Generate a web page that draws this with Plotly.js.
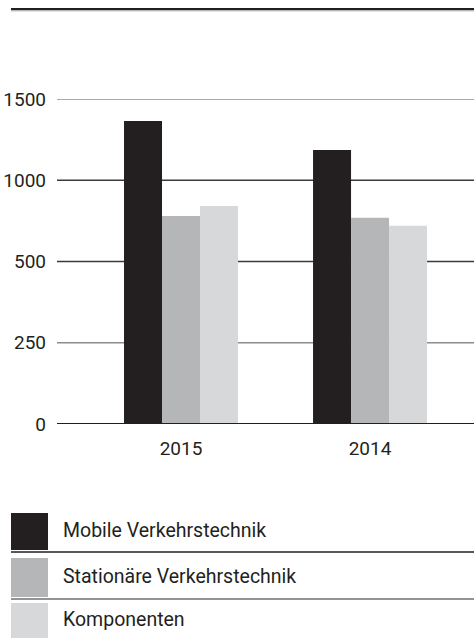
<!DOCTYPE html>
<html>
<head>
<meta charset="utf-8">
<script src="https://cdn.plot.ly/plotly-3.0.1.min.js"></script>
<style>
html,body{margin:0;padding:0;background:#fff;}
#chart{width:474px;height:638px;}
</style>
</head>
<body>
<div id="chart"></div>
<script>
// ---- data ----
const years = ["2015", "2014"];
const seriesNames = ["Mobile Verkehrstechnik", "Stationäre Verkehrstechnik", "Komponenten"];
const mobile = [1365, 1186];
const stationaer = [780, 770];
const komponenten = [842, 720];
const tickValues = [0, 250, 500, 1000, 1500];
const tickLabels = ["0", "250", "500", "1000", "1500"];

// ---- styles ----
const colors = ["#231f20", "#b5b6b8", "#d7d8da"];
const gridColors = ["#231f20", "#8c8c8c", "#3a3a3a", "#3a3a3a", "#8c8c8c"];
const W = 474, H = 638;
const M = {l: 57, r: 0, t: 99, b: 214};
const PW = W - M.l - M.r, PH = H - M.t - M.b;
const FONT = "Roboto, 'Liberation Sans', sans-serif";
const TXT = "#231f20";

// The reference uses a broken value axis: 0-250-500 then 500-1000-1500 equally spaced.
function scale(v) { return v <= 500 ? v / 250 : 2 + (v - 500) / 500; }
const px = x => (x - M.l) / PW;        // pixel -> paper x
const py = y => (M.t + PH - y) / PH;   // pixel -> paper y

const allSeries = [mobile, stationaer, komponenten];
const traces = allSeries.map((vals, i) => ({
  type: "bar",
  name: seriesNames[i],
  x: years,
  y: vals.map(scale),
  customdata: vals,
  hovertemplate: "%{x}: %{customdata}<extra>" + seriesNames[i] + "</extra>",
  marker: {color: colors[i], line: {width: 0}}
}));

const shapes = [];
// gridlines
tickValues.forEach((v, i) => {
  if (v === 0) return;
  shapes.push({type: "line", layer: "below", xref: "paper", yref: "y",
    x0: 0, x1: 1, y0: scale(v), y1: scale(v),
    line: {color: gridColors[i], width: 1.5}});
});
// zero baseline (dark with light shadow underneath)
shapes.push({type: "line", layer: "above", xref: "paper", yref: "y",
  x0: 0, x1: 1, y0: 0, y1: 0, line: {color: "#231f20", width: 2}});
shapes.push({type: "line", layer: "above", xref: "paper", yref: "y", ysizemode: "pixel", yanchor: 0,
  x0: 0, x1: 1, y0: -2, y1: -2, line: {color: "#9a9a9a", width: 1}});
// top rule
shapes.push({type: "line", xref: "paper", yref: "paper",
  x0: px(11), x1: 1, y0: py(9), y1: py(9), line: {color: "#231f20", width: 2}});
shapes.push({type: "line", xref: "paper", yref: "paper",
  x0: px(11), x1: 1, y0: py(10.8), y1: py(10.8), line: {color: "#9a9a9a", width: 1}});

// custom legend
const rows = [{top: 513, bot: 550, line: 552, lc: "#231f20"},
              {top: 558, bot: 597, line: 599, lc: "#6f6f6f"},
              {top: 603, bot: 640, line: null}];
const annotations = [];
rows.forEach((r, i) => {
  shapes.push({type: "rect", xref: "paper", yref: "paper",
    x0: px(11), x1: px(48), y0: py(r.bot), y1: py(r.top),
    fillcolor: colors[i], line: {width: 0}});
  if (r.line) shapes.push({type: "line", xref: "paper", yref: "paper",
    x0: px(11), x1: 1, y0: py(r.line), y1: py(r.line),
    line: {color: r.lc, width: 1.5}});
  annotations.push({xref: "paper", yref: "paper", x: px(61), y: py((r.top + Math.min(r.bot, 638)) / 2 - 1),
    xanchor: "left", yanchor: "middle", showarrow: false, text: seriesNames[i],
    font: {family: FONT, size: 19.5, color: TXT}});
});

const layout = {
  width: W, height: H,
  margin: M,
  paper_bgcolor: "#fff", plot_bgcolor: "rgba(0,0,0,0)",
  showlegend: false,
  barmode: "group",
  bargap: 0.397, bargroupgap: 0,
  font: {family: FONT, size: 19, color: TXT},
  xaxis: {type: "category", range: [-0.656, 1.55], showgrid: false, zeroline: false,
    showline: false, ticks: "", ticklabelstandoff: 11, fixedrange: true,
    tickfont: {family: FONT, size: 19, color: TXT}},
  yaxis: {range: [0, 4], showgrid: false, zeroline: false, showline: false,
    tickmode: "array", tickvals: tickValues.map(scale), ticktext: tickLabels,
    ticks: "", ticklabelstandoff: 10, fixedrange: true,
    tickfont: {family: FONT, size: 19, color: TXT}},
  shapes: shapes,
  annotations: annotations
};

Plotly.newPlot("chart", traces, layout, {displayModeBar: false, staticPlot: true});
</script>
</body>
</html>
